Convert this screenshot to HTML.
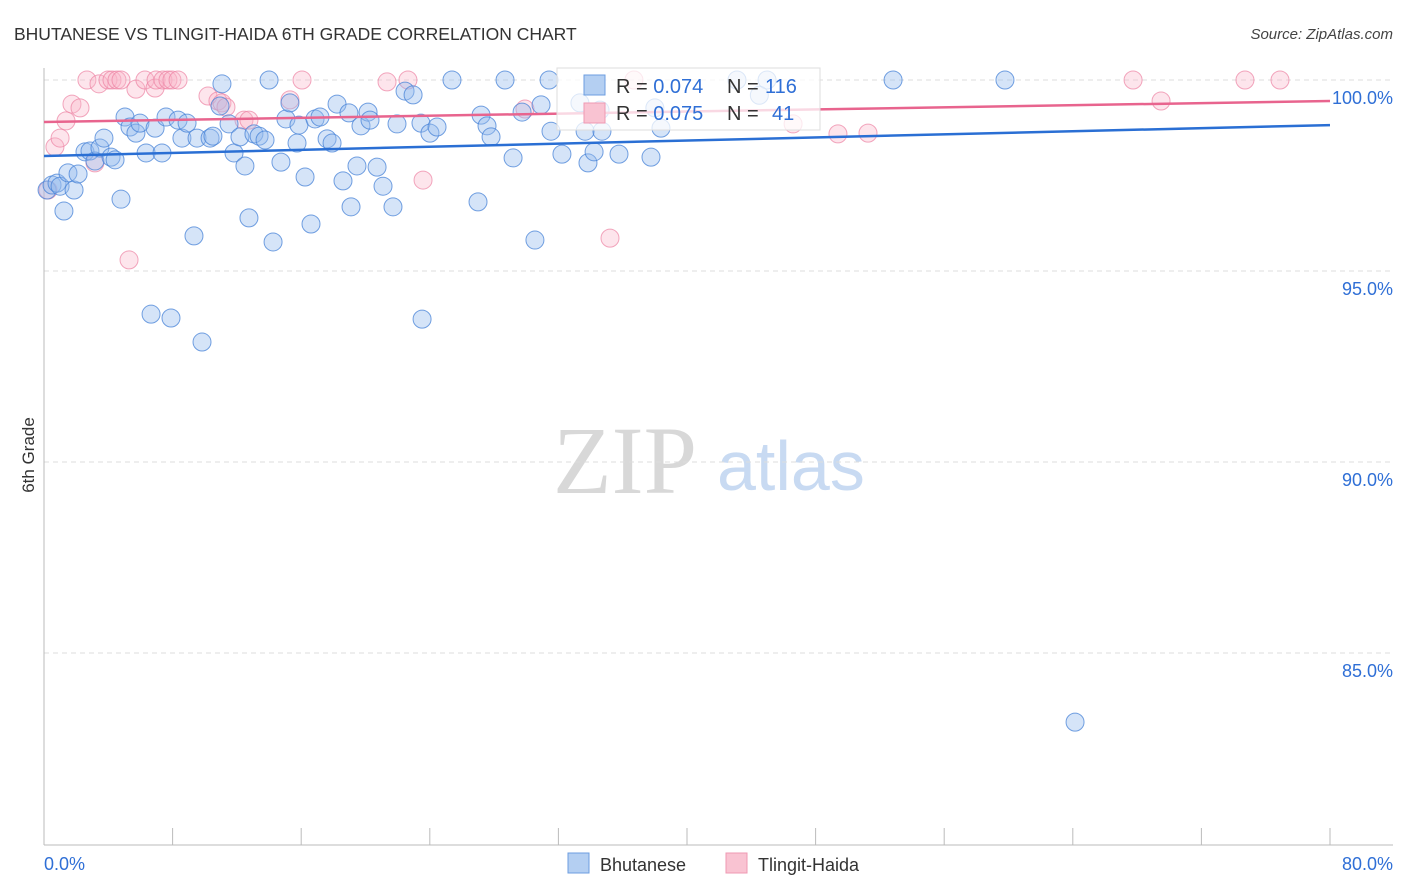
<!DOCTYPE html>
<html><head><meta charset="utf-8">
<style>
body{margin:0;background:#fff;font-family:"Liberation Sans",sans-serif;}
#wrap{position:relative;width:1406px;height:892px;overflow:hidden;}
</style></head>
<body>
<div id="wrap">
<svg id="svg" width="1406" height="892" xmlns="http://www.w3.org/2000/svg">
<text x="14" y="40" font-size="17.5" fill="#333">BHUTANESE VS TLINGIT-HAIDA 6TH GRADE CORRELATION CHART</text>
<text x="1393" y="39" font-size="15" fill="#444" font-style="italic" text-anchor="end">Source: ZipAtlas.com</text>
<text transform="translate(34,455) rotate(-90)" font-size="17" fill="#333" text-anchor="middle">6th Grade</text>
<g>
<text x="553" y="493" font-family="Liberation Serif,serif" font-size="96" fill="#d8d8d8">ZIP</text>
<text x="717" y="490" font-size="70" fill="#c8daf2">atlas</text>
</g>
<g id="grid"></g>
<g id="axes"></g>
<g id="pts"></g>
<g id="trend"></g>
<g>
<rect x="557" y="68" width="263" height="62" fill="rgba(255,255,255,0.75)" stroke="#ddd"/>
<rect x="584" y="75" width="21" height="20" fill="#b4cff2" stroke="#6c9ee0"/>
<rect x="584" y="103" width="21" height="20" fill="#f9c3d2" stroke="#ef98b3"/>
<text x="616" y="93" font-size="20" fill="#333">R = <tspan fill="#2f6fd6">0.074</tspan><tspan x="727">N = </tspan><tspan fill="#2f6fd6" x="765">116</tspan></text>
<text x="616" y="120" font-size="20" fill="#333">R = <tspan fill="#2f6fd6">0.075</tspan><tspan x="727">N = </tspan><tspan fill="#2f6fd6" x="772">41</tspan></text>
</g>
<g>
<rect x="568" y="853" width="21" height="20" fill="#b4cff2" stroke="#6c9ee0"/>
<text x="600" y="871" font-size="18" fill="#333">Bhutanese</text>
<rect x="726" y="853" width="21" height="20" fill="#f9c3d2" stroke="#ef98b3"/>
<text x="758" y="871" font-size="18" fill="#333">Tlingit-Haida</text>
</g>
</svg>
</div>
<script>
const yTicks=[100,95,90,85];
const yTickLabels=["100.0%","95.0%","90.0%","85.0%"];
const xTickCount=[0,8,16,24,32,40,48,56,64,72,80];
const xEndLabels=["0.0%","80.0%"];
const blueX=[0.19,0.5,0.81,1.0,1.24,1.49,1.87,2.12,2.55,2.86,3.17,3.48,3.73,4.17,4.42,4.79,5.04,5.35,5.72,5.97,6.35,6.91,7.34,6.66,7.9,7.59,8.34,8.58,8.9,9.33,9.52,9.83,10.33,10.51,10.95,11.07,11.51,11.82,12.19,12.5,12.75,13.06,13.38,13.75,14.0,14.25,14.74,15.05,15.3,15.74,15.86,16.24,16.61,16.86,17.17,17.61,17.92,18.23,18.6,18.97,19.1,19.47,19.72,20.16,20.28,20.72,21.09,21.71,21.96,22.46,22.96,23.45,23.52,24.01,24.45,25.38,27.0,27.19,27.56,27.81,28.68,29.18,29.74,30.54,30.92,31.42,31.54,32.22,33.66,33.84,34.22,34.71,35.77,37.76,38.38,43.11,44.98,52.82,59.78,64.14,33.34,34.59,38.0,44.5];
const blueY=[97.12,97.25,97.3,97.22,96.57,97.57,97.12,97.54,98.12,98.14,97.88,98.22,98.48,97.98,97.91,96.88,99.03,98.77,98.61,98.87,98.09,98.74,98.09,93.87,93.77,99.03,98.95,98.48,98.87,95.92,98.48,93.14,98.48,98.53,99.32,99.9,98.85,98.09,98.51,97.75,96.39,98.59,98.53,98.43,100,95.76,97.85,98.98,99.4,98.35,98.82,97.46,96.23,98.98,99.03,98.46,98.35,99.37,97.36,99.14,96.68,97.75,98.8,99.16,98.95,97.72,97.22,96.68,98.85,99.71,99.61,98.87,93.74,98.61,98.77,100,96.81,99.08,98.8,98.51,100,97.96,99.16,95.81,99.35,100,98.66,98.06,98.66,97.83,98.12,98.66,98.06,97.98,98.74,100,100,100,100,83.19,99.4,99.21,99.27,99.6];
const pinkX=[0.25,0.68,1.0,1.37,1.74,2.24,2.67,3.17,3.42,3.98,4.23,4.54,4.79,5.29,5.72,6.28,6.91,6.97,7.4,7.71,7.96,8.34,10.2,10.82,11.07,11.32,12.44,12.75,15.3,16.05,21.34,22.64,23.58,29.92,35.21,36.7,46.6,49.39,51.26,67.75,69.49,74.71,76.89];
const pinkY=[97.12,98.25,98.48,98.93,99.37,99.27,100,97.83,99.9,100,100,100,100,95.29,99.76,100,99.79,100,100,100,100,100,99.58,99.45,99.4,99.29,98.95,98.95,99.48,100,99.95,100,97.38,99.24,95.86,100,98.85,98.59,98.61,100,99.45,100,100];
const trendX=[0,80];
const blueTrend=[98.01,98.82];
const pinkTrend=[98.9,99.45];

const NS="http://www.w3.org/2000/svg";
const X0=44,X1=1330,Y100=80,PX5=191;
const xs=v=>X0+(X1-X0)*v/80;
const ys=v=>Y100+(100-v)/5*PX5;
function mk(tag,attrs,parent){const e=document.createElementNS(NS,tag);for(const k in attrs)e.setAttribute(k,attrs[k]);parent.appendChild(e);return e;}
const grid=document.getElementById('grid'),axes=document.getElementById('axes'),pts=document.getElementById('pts'),trend=document.getElementById('trend');
yTicks.forEach((t,i)=>{
 const l=mk('line',{x1:X0,x2:1393,y1:ys(t),y2:ys(t),stroke:'#ddd','stroke-dasharray':'5,4'},grid);
 
 
 const tx=mk('text',{x:1393,y:ys(t)+24,'font-size':18,fill:'#2f6fd6','text-anchor':'end'},grid);
 tx.textContent=yTickLabels[i];
 
 
});
const ya=mk('line',{x1:X0,x2:X0,y1:68,y2:845,stroke:'#bbb'},axes);


const xa=mk('line',{x1:X0,x2:1393,y1:845,y2:845,stroke:'#bbb'},axes);


xTickCount.forEach(t=>{
 const tk=mk('line',{x1:xs(t),x2:xs(t),y1:828,y2:845,stroke:'#bbb'},axes);
 
 
});
const xl0=mk('text',{x:X0,y:870,'font-size':18,fill:'#2f6fd6'},axes);xl0.textContent=xEndLabels[0];


const xl1=mk('text',{x:1393,y:870,'font-size':18,fill:'#2f6fd6','text-anchor':'end'},axes);xl1.textContent=xEndLabels[1];


pinkX.forEach((x,i)=>{
 const c=mk('circle',{cx:xs(x),cy:ys(pinkY[i]),r:9,fill:'rgba(248,180,200,0.35)',stroke:'rgba(236,130,162,0.7)','stroke-width':1},pts);
 
 
});
blueX.forEach((x,i)=>{
 const c=mk('circle',{cx:xs(x),cy:ys(blueY[i]),r:9,fill:'rgba(150,188,238,0.4)',stroke:'rgba(70,130,215,0.75)','stroke-width':1},pts);
 
 
});
const pt=mk('line',{x1:xs(trendX[0]),x2:xs(trendX[1]),y1:ys(pinkTrend[0]),y2:ys(pinkTrend[1]),stroke:'#e8648e','stroke-width':2.5},trend);


const bt=mk('line',{x1:xs(trendX[0]),x2:xs(trendX[1]),y1:ys(blueTrend[0]),y2:ys(blueTrend[1]),stroke:'#2a6fd4','stroke-width':2.5},trend);


</script>
</body></html>
